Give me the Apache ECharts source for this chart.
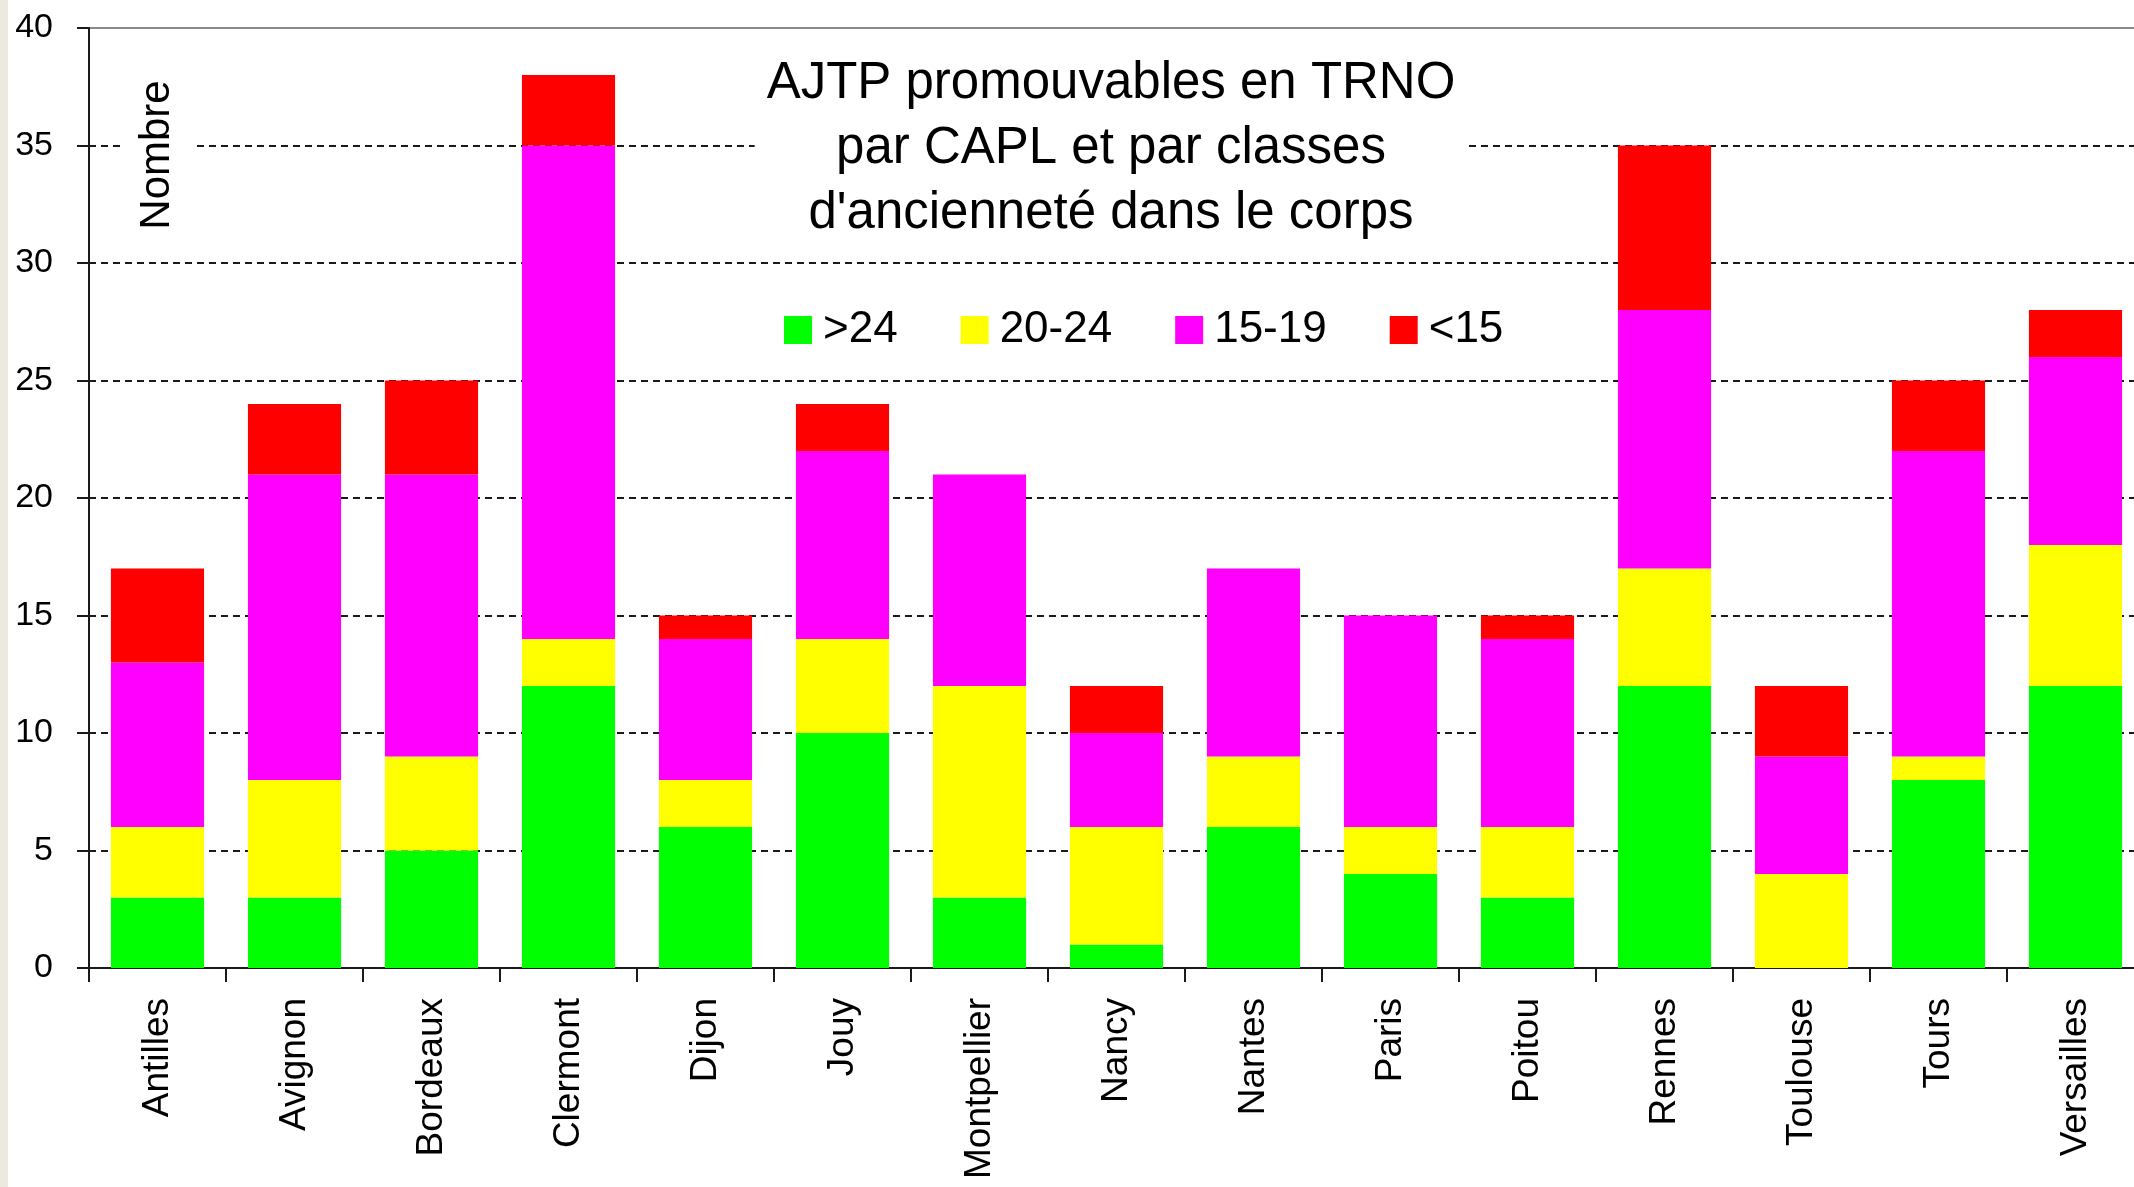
<!DOCTYPE html>
<html>
<head>
<meta charset="utf-8">
<script src="https://cdn.jsdelivr.net/npm/echarts@6/dist/echarts.min.js"></script>
<style>
html,body{margin:0;padding:0;background:#fff;}
#c{width:2134px;height:1187px;}
</style>
</head>
<body>
<div id="c"></div>
<script>
const categories = ['Antilles','Avignon','Bordeaux','Clermont','Dijon','Jouy','Montpellier','Nancy','Nantes','Paris','Poitou','Rennes','Toulouse','Tours','Versailles'];
const seriesNames = ['>24','20-24','15-19','<15'];
const over24   = [3, 3, 5, 12, 6, 10, 3, 1, 6, 4, 3, 12, 0, 8, 12];
const from20to24 = [3, 5, 4, 2, 2, 4, 9, 5, 3, 2, 3, 5, 4, 1, 6];
const from15to19 = [7, 13, 12, 21, 6, 8, 9, 4, 8, 9, 8, 11, 5, 13, 8];
const under15  = [4, 3, 4, 3, 1, 2, 0, 2, 0, 0, 1, 7, 3, 3, 2];
const yTicks = {min: 0, max: 40, interval: 5};
const colors = ['#00FF00','#FFFF00','#FF00FF','#FF0000'];
const titleText = 'AJTP promouvables en TRNO\npar CAPL et par classes\nd\'ancienneté dans le corps';
const yName = 'Nombre';

const FONT = '"Liberation Sans", Arial, sans-serif';
const chart = echarts.init(document.getElementById('c'));
const dataSets = [over24, from20to24, from15to19, under15];

chart.setOption({
  backgroundColor: '#ffffff',
  animation: false,
  textStyle: {fontFamily: FONT, color: '#000'},
  title: {
    text: titleText,
    left: 1099,
    top: 47,
    textAlign: 'center',
    backgroundColor: '#ffffff',
    padding: [4, 12, 4, 12],
    textStyle: {fontFamily: FONT, fontSize: 51, fontWeight: 'normal', color: '#000', lineHeight: 65}
  },
  legend: {
    left: 784,
    top: 308,
    padding: 0,
    itemWidth: 28,
    itemHeight: 28,
    itemGap: 63,
    icon: 'rect',
    data: seriesNames,
    textStyle: {fontFamily: FONT, fontSize: 44, color: '#000', padding: [0, 0, 0, 6]}
  },
  grid: {
    left: 89, width: 2055, top: 28, height: 940,
    outerBoundsMode: 'none',
    containLabel: false,
    show: true, borderColor: '#8a8a8a', borderWidth: 2, backgroundColor: 'transparent'
  },
  xAxis: {
    type: 'category',
    data: categories,
    axisLine: {lineStyle: {color: '#1a1a1a', width: 2}},
    axisTick: {show: true, length: 14, lineStyle: {color: '#1a1a1a', width: 2}},
    axisLabel: {rotate: 90, fontSize: 37, margin: 30, color: '#000', fontFamily: FONT, interval: 0}
  },
  yAxis: {
    type: 'value',
    min: yTicks.min, max: yTicks.max, interval: yTicks.interval,
    axisLine: {show: true, lineStyle: {color: '#1a1a1a', width: 2}},
    axisTick: {show: true, length: 12, lineStyle: {color: '#1a1a1a', width: 2}},
    axisLabel: {fontSize: 34, margin: 36, color: '#000', fontFamily: FONT},
    splitLine: {show: true, showMinLine: false, showMaxLine: false, lineStyle: {color: '#1a1a1a', width: 2, type: [7, 5]}}
  },
  series: seriesNames.map((n, i) => ({
    name: n,
    type: 'bar',
    stack: 'total',
    barCategoryGap: '32%',
    itemStyle: {color: colors[i]},
    data: dataSets[i]
  })),
  graphic: [
    {type: 'rect', left: 0, top: 0, shape: {width: 8, height: 1187}, style: {fill: '#ECE9DF'}, z: 100},
    {type: 'text', x: 157, y: 155, rotation: Math.PI / 2, z: 100,
     style: {text: yName, fontFamily: FONT, fontSize: 42, fill: '#000', align: 'center', verticalAlign: 'middle',
             backgroundColor: '#fff', padding: [14, 0, 14, 0]}}
  ]
});
</script>
</body>
</html>
